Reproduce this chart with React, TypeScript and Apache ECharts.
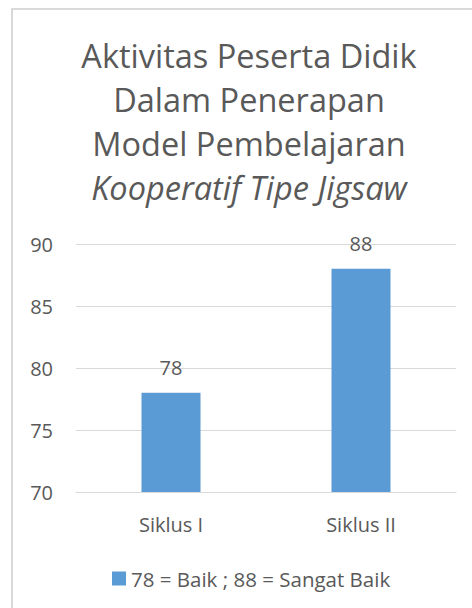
import React, { useEffect, useRef } from "react";
import * as echarts from "echarts";

const categories = ["Siklus I", "Siklus II"];
const values = [78, 88];
const seriesName = "78 = Baik ; 88 = Sangat Baik";
const titleLines = [
  "Aktivitas Peserta Didik",
  "Dalam Penerapan",
  "Model Pembelajaran",
  "Kooperatif Tipe Jigsaw",
];
const italicLine = [false, false, false, true];

const FONT = "'Open Sans', 'Noto Sans', sans-serif";
const TXT = "#595959";

export default function App() {
  const ref = useRef<HTMLDivElement>(null);
  useEffect(() => {
    if (!ref.current) return;
    const chart = echarts.init(ref.current, null, { renderer: "svg" });
    const titleY = [55, 99, 143, 187];
    chart.setOption({
      animation: false,
      backgroundColor: "#ffffff",
      textStyle: { fontFamily: FONT },
      graphic: [
        {
          type: "rect",
          shape: { x: 12, y: 9, width: 480, height: 620 },
          style: { fill: "none", stroke: "#d9d9d9", lineWidth: 2 },
          silent: true,
        },
        ...titleLines.map((t, i) => ({
          type: "text",
          x: 249,
          y: titleY[i],
          style: {
            text: t,
            textAlign: "center",
            textVerticalAlign: "middle",
            fontFamily: FONT,
            fontSize: 32.5,
            fontStyle: italicLine[i] ? "italic" : "normal",
            fill: TXT,
          },
        })),
      ],
      legend: {
        left: 107,
        top: 563,
        itemWidth: 14,
        itemHeight: 14,
        itemGap: 5,
        icon: "rect",
        textStyle: { fontSize: 20.5, color: TXT, fontFamily: FONT },
        data: [seriesName],
      },
      grid: { left: 76, right: 16, top: 244, bottom: 116 },
      xAxis: {
        type: "category",
        data: categories,
        axisLine: { lineStyle: { color: "#d9d9d9", width: 1 } },
        axisTick: { show: false },
        axisLabel: { fontSize: 20, color: TXT, margin: 22, fontFamily: FONT },
      },
      yAxis: {
        type: "value",
        min: 70,
        max: 90,
        interval: 5,
        axisLine: { show: false },
        axisTick: { show: false },
        splitLine: { lineStyle: { color: "#d9d9d9", width: 1 } },
        axisLabel: { fontSize: 20, color: TXT, margin: 23, fontFamily: FONT },
      },
      series: [
        {
          name: seriesName,
          type: "bar",
          data: values,
          barWidth: 59,
          itemStyle: { color: "#5b9bd5" },
          label: {
            show: true,
            position: "top",
            distance: 15,
            fontSize: 20,
            color: TXT,
            fontFamily: FONT,
          },
        },
      ],
    });
    return () => chart.dispose();
  }, []);
  return (
    <div
      ref={ref}
      style={{ position: "fixed", left: 0, top: 0, width: 472, height: 608 }}
    />
  );
}
